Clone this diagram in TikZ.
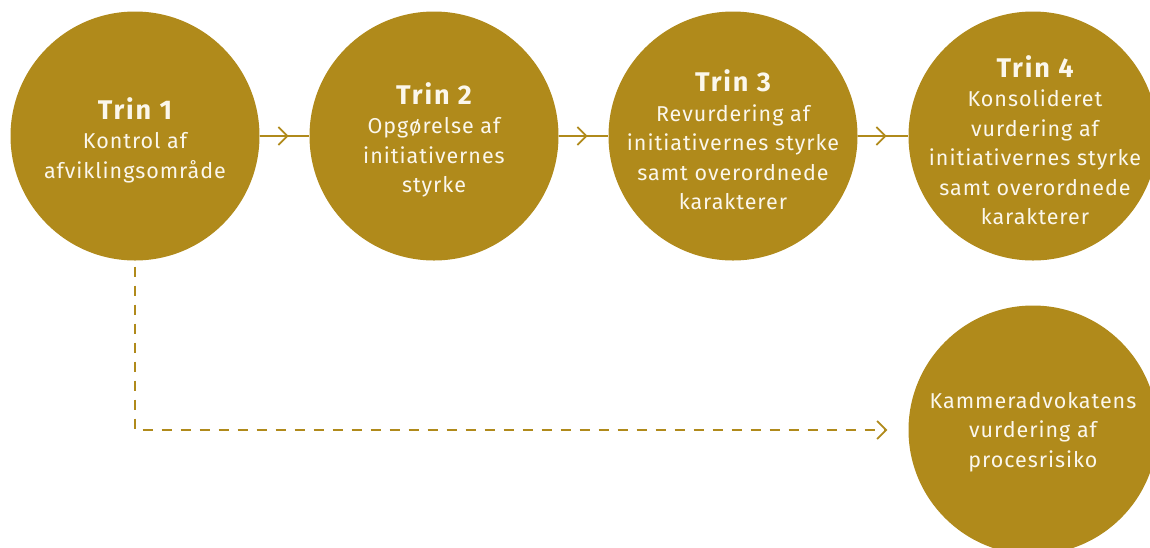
\documentclass[tikz,border=0pt]{standalone}
\usepackage{fontspec}
\setmainfont{Fira Sans}
\newfontfamily\bodyfont{Fira Sans}[LetterSpace=4.5]
\newfontfamily\trinfont{Fira Sans}[LetterSpace=7]
\newcommand\trinlabel[1]{{\trinfont\fontsize{27}{32}\selectfont\bfseries #1}}
\usetikzlibrary{arrows.meta,decorations.markings,calc}
\definecolor{gold}{HTML}{B08A1B}
\definecolor{txt}{HTML}{FBF7EC}
\tikzset{
  stepcircle/.style={circle, fill=gold, draw=none, minimum size=249pt, inner sep=0pt},
  steptext/.style={align=center, text=txt, font=\bodyfont\fontsize{21.5}{29.5}\selectfont, inner sep=0pt},
  conn/.style={draw=gold, line width=1.8pt, postaction={decorate},
    decoration={markings, mark=at position 29pt with {\arrow[gold]{Straight Barb[length=9pt,width=18pt,line width=1.8pt]}}}},
  dashconn/.style={draw=gold, line width=1.8pt, dash pattern=on 10pt off 9pt, dash phase=-6pt,
    -{Straight Barb[length=9pt,width=18pt,line width=1.8pt]}}
}
\begin{document}
\begin{tikzpicture}[x=1pt,y=-1pt]
\useasboundingbox (0,0) rectangle (1150,547);
\clip (0,0) rectangle (1150,547);
\node[stepcircle] (c1) at (135,136) {};
\node[stepcircle] (c2) at (434,136) {};
\node[stepcircle] (c3) at (733,136) {};
\node[stepcircle] (c4) at (1033,136) {};
\node[stepcircle] (c5) at (1033,430) {};

\node[steptext] (t1) at (135,140) {\trinlabel{Trin 1}\\Kontrol af\\afviklingsområde};
\node[steptext] (t2) at (434,140) {\trinlabel{Trin 2}\\Opgørelse af\\initiativernes\\styrke};
\node[steptext] (t3) at (733,140) {\trinlabel{Trin 3}\\Revurdering af\\initiativernes styrke\\samt overordnede\\karakterer};
\node[steptext] (t4) at (1035,140) {\trinlabel{Trin 4}\\Konsolideret\\vurdering af\\initiativernes styrke\\samt overordnede\\karakterer};
\node[steptext] (t5) at (1033,432) {Kammeradvokatens\\vurdering af\\procesrisiko};

\draw[conn] (c1.east) -- (c2.west);
\draw[conn] (c2.east) -- (c3.west);
\draw[conn] (c3.east) -- (c4.west);

\coordinate (corner) at (c1.south |- c5.west);
\coordinate (dend) at ($(c5.west)+(-21,0)$);
\draw[dashconn] (c1.south) -- (corner) -- (dend);
\end{tikzpicture}
\end{document}
